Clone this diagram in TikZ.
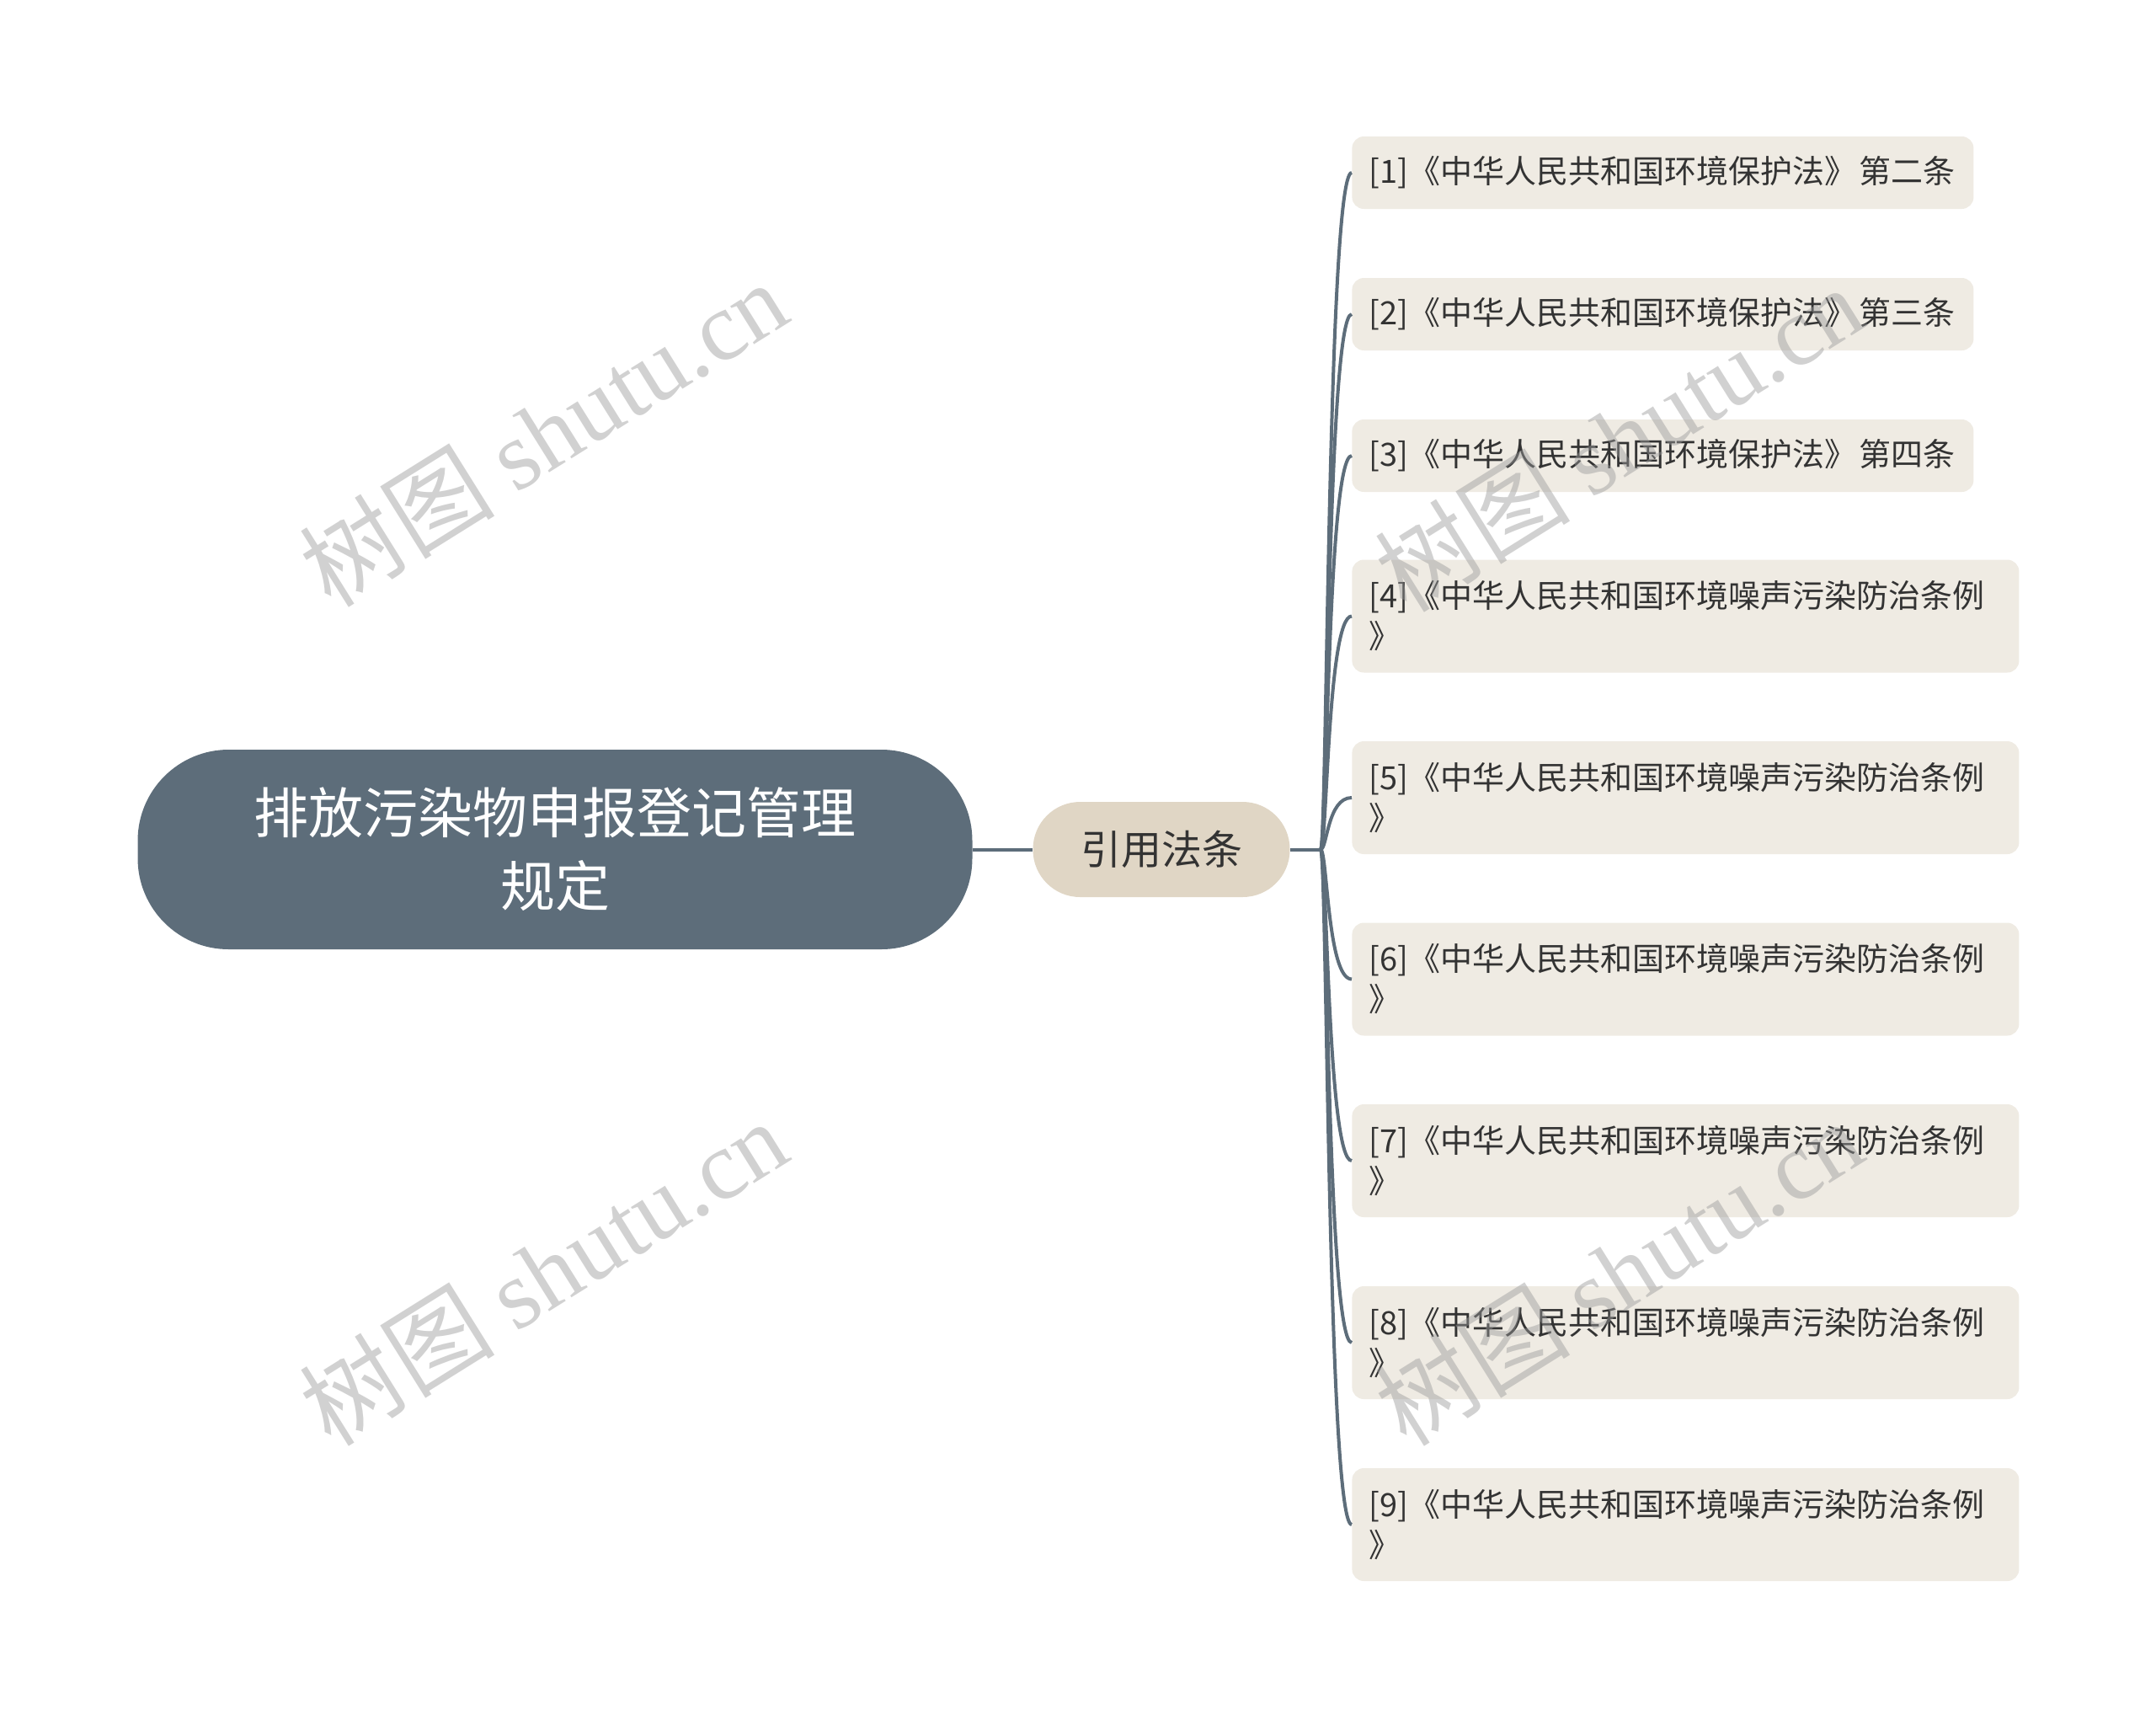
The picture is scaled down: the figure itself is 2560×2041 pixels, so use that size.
\documentclass[tikz,border=0pt]{standalone}
\usepackage{fontspec}
\setmainfont{Noto Sans CJK SC}
\newfontfamily\wmlatin{Liberation Serif}
\newfontfamily\cjkfont{Noto Sans CJK SC}
\definecolor{rootc}{HTML}{5D6D7A}
\definecolor{subc}{HTML}{E0D6C5}
\definecolor{leafc}{HTML}{EFEBE3}
\definecolor{linec}{HTML}{5D6D7A}
\definecolor{txtc}{HTML}{333333}
\definecolor{wmc}{HTML}{9A9A9A}
\begin{document}
\begin{tikzpicture}[x=0.5pt,y=-0.5pt,
  rootbox/.style={fill=rootc, text=white, rounded corners=54pt, minimum width=495.5pt, minimum height=118.5pt, font=\fontsize{32.5}{43.5}\selectfont, align=center, inner sep=0pt},
  subbox/.style={fill=subc, text=txtc, rounded corners=28pt, minimum width=152.5pt, minimum height=56.5pt, font=\fontsize{24}{28}\selectfont, inner sep=0pt},
  leafbox/.style={fill=leafc, text=txtc, rounded corners=7pt, anchor=west, inner xsep=10pt, inner ysep=0pt, text width=#1, align=left, font=\fontsize{19}{24}\selectfont},
  leafshort/.style={leafbox=349pt, minimum height=43pt},
  leaftall/.style={leafbox=376pt, minimum height=67pt},
  conn/.style={draw=linec, line width=2pt},
  wm/.style={text=wmc, text opacity=0.45, rotate=32, font=\fontsize{58}{58}\selectfont, inner sep=0pt}
]
\useasboundingbox (0,0) rectangle (2560,2041);
\node[rootbox] (root) at (659,1008.5) {排放污染物申报登记管理\\规定};
\node[subbox] (sub) at (1379,1008.5) {引用法条};
\node[leafshort] (l1) at (1605,205) {\mbox{[1]《中华人民共和国环境保护法》\hspace{0.1em}第二条}};
\node[leafshort] (l2) at (1605,373) {\mbox{[2]《中华人民共和国环境保护法》\hspace{0.1em}第三条}};
\node[leafshort] (l3) at (1605,541) {\mbox{[3]《中华人民共和国环境保护法》\hspace{0.1em}第四条}};
\node[leaftall] (l4) at (1605,731.5) {\mbox{[4]《中华人民共和国环境噪声污染防治条例}\\》};
\node[leaftall] (l5) at (1605,947) {\mbox{[5]《中华人民共和国环境噪声污染防治条例}\\》};
\node[leaftall] (l6) at (1605,1162.5) {\mbox{[6]《中华人民共和国环境噪声污染防治条例}\\》};
\node[leaftall] (l7) at (1605,1378) {\mbox{[7]《中华人民共和国环境噪声污染防治条例}\\》};
\node[leaftall] (l8) at (1605,1594) {\mbox{[8]《中华人民共和国环境噪声污染防治条例}\\》};
\node[leaftall] (l9) at (1605,1810) {\mbox{[9]《中华人民共和国环境噪声污染防治条例}\\》};
\coordinate (J) at (1568,1008.5);
\coordinate (C) at (1576,1008.5);
\draw[conn] (root.east) -- (sub.west);
\draw[conn] (sub.east) -- (J);
\foreach \i in {1,...,9}{
  \draw[conn] (J) .. controls (C) and (l\i.west -| C) .. (l\i.west);
}
\node[wm] (w1) at (645,514) {\cjkfont 树图 \wmlatin shutu.cn};
\node[wm] (w2) at (645,1510) {\cjkfont 树图 \wmlatin shutu.cn};
\node[wm] (w3) at (1922,520) {\cjkfont 树图 \wmlatin shutu.cn};
\node[wm] (w4) at (1922,1510) {\cjkfont 树图 \wmlatin shutu.cn};
\end{tikzpicture}
\end{document}
